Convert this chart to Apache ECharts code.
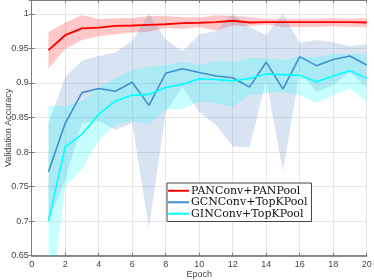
<!DOCTYPE html>
<html><head><meta charset="utf-8">
<script src="https://cdn.jsdelivr.net/npm/echarts@6/dist/echarts.min.js"></script>
<style>html,body{margin:0;padding:0;background:#fff}#c{width:374px;height:280px}</style>
</head><body><div id="c"></div>
<script>
const epochs = [1,2,3,4,5,6,7,8,9,10,11,12,13,14,15,16,17,18,19,20];
const xTicks = [0,2,4,6,8,10,12,14,16,18,20];
const yTicks = [0.65,0.7,0.75,0.8,0.85,0.9,0.95,1];
const names = ['PANConv+PANPool','GCNConv+TopKPool','GINConv+TopKPool'];

const panMean  = [0.9475,0.969,0.979,0.980,0.9826,0.983,0.984,0.985,0.9865,0.987,0.988,0.990,0.9875,0.988,0.988,0.988,0.988,0.988,0.988,0.9875];
const panUpper = [0.9738,0.9869,0.998,0.9926,0.9935,0.994,0.997,0.9965,0.9955,0.9946,0.998,0.997,0.9955,0.993,0.993,0.993,0.993,0.994,0.993,0.994];
const panLower = [0.921,0.949,0.962,0.9675,0.9705,0.973,0.974,0.9795,0.978,0.981,0.976,0.983,0.982,0.9845,0.981,0.981,0.981,0.982,0.981,0.981];

const gcnMean  = [0.7715,0.8415,0.886,0.892,0.888,0.901,0.8675,0.914,0.9205,0.915,0.910,0.9075,0.894,0.930,0.891,0.938,0.925,0.934,0.939,0.926];
const gcnUpper = [0.8415,0.909,0.932,0.939,0.944,0.961,1.0,0.963,0.946,0.970,0.975,1.0,0.981,0.969,1.0,0.958,0.962,0.959,0.953,0.956];
const gcnLower = [0.700,0.760,0.8415,0.845,0.832,0.842,0.690,0.858,0.894,0.858,0.839,0.808,0.807,0.904,0.772,0.916,0.887,0.897,0.915,0.893];

const ginMean  = [0.700,0.8076,0.8256,0.8545,0.874,0.8824,0.8834,0.8935,0.898,0.906,0.905,0.903,0.9065,0.913,0.912,0.911,0.9017,0.910,0.9176,0.9066];
const ginUpper = [0.8665,0.8665,0.873,0.8935,0.9065,0.9186,0.923,0.926,0.9306,0.926,0.9316,0.930,0.936,0.936,0.933,0.938,0.937,0.9417,0.942,0.941];
const ginLower = [0.553,0.750,0.775,0.817,0.840,0.845,0.840,0.862,0.862,0.873,0.870,0.866,0.882,0.885,0.887,0.882,0.871,0.882,0.892,0.873];

const lineColors = ['#ff0000','#3f8fd0','#00ffff'];
const bandColors = ['rgba(255,0,0,0.22)','rgba(60,120,190,0.2)','rgba(0,255,255,0.22)'];

function pairs(arr){ return epochs.map((e,i)=>[e,arr[i]]); }

const bands = [[panUpper,panLower],[gcnUpper,gcnLower],[ginUpper,ginLower]];
const means = [panMean,gcnMean,ginMean];
const series = [];
bands.forEach((b,k)=>{
  series.push({type:'custom',name:'band'+k,silent:true,z:1,
    data:[[epochs[0],b[0][0]]],
    renderItem:function(params,api){
      const up = epochs.map((e,i)=>api.coord([e,b[0][i]]));
      const lo = epochs.map((e,i)=>api.coord([e,b[1][i]])).reverse();
      const cs = params.coordSys;
      return {type:'polygon',shape:{points:up.concat(lo)},style:{fill:bandColors[k],stroke:null},
        clipPath:{type:'rect',shape:{x:cs.x,y:cs.y,width:cs.width,height:cs.height}}};
    }});
});
means.forEach((m,k)=>{
  series.push({type:'line',name:names[k],data:pairs(m),symbol:'none',
    lineStyle:{color:lineColors[k],width:k===0?1.9:1.6},itemStyle:{color:lineColors[k]},z:5});
});

const fmt = v => { const r=Math.round(v*100)/100; return yTicks.some(t=>Math.abs(t-r)<1e-9)? String(r):''; };
const axLine = {show:true,lineStyle:{color:'#7a7a7a',width:1}};
const chart = echarts.init(document.getElementById('c'),null,{renderer:'canvas'});
chart.setOption({
  animation:false,
  grid:{left:31.7,right:7.3,top:0,bottom:24.3,containLabel:false,outerBoundsMode:'none'},
  legend:{data:names,icon:'rect',orient:'vertical',left:167,top:183,itemWidth:21,itemHeight:2,itemGap:0,
    padding:[2,4,2,1],borderColor:'#444',borderWidth:1,backgroundColor:'#fff',
    textStyle:{fontFamily:'DejaVu Serif',fontSize:11,color:'#111',padding:[0,0,0,-3],lineHeight:11.5}},
  xAxis:[{type:'value',min:0,max:20,interval:2,position:'bottom',name:'Epoch',nameLocation:'middle',nameGap:14.5,nameMoveOverlap:false,
    nameTextStyle:{fontFamily:'Liberation Sans',fontSize:9,color:'#444'},
    axisLine:{show:true,lineStyle:{color:'#6a6a6a',width:1.5}},axisTick:{inside:true,length:3,lineStyle:{color:'#7a7a7a'}},
    axisLabel:{fontFamily:'Liberation Sans',fontSize:9,color:'#444',margin:4},
    splitLine:{show:true,lineStyle:{color:'#e6e6e6',width:1}}},
   {type:'value',min:0,max:20,interval:2,position:'top',axisLine:axLine,
    axisTick:{inside:true,length:3,lineStyle:{color:'#7a7a7a'}},axisLabel:{show:false},splitLine:{show:false}}],
  yAxis:[{type:'value',min:0.65,max:1.02,interval:0.05,position:'left',name:'Validation Accuracy',nameLocation:'middle',nameGap:19,nameMoveOverlap:false,
    nameTextStyle:{fontFamily:'Liberation Sans',fontSize:9,color:'#444'},
    axisLine:axLine,axisTick:{inside:true,length:3,lineStyle:{color:'#7a7a7a'}},
    axisLabel:{fontFamily:'Liberation Sans',fontSize:9,color:'#444',margin:3,formatter:fmt,showMaxLabel:false},
    splitLine:{show:true,lineStyle:{color:'#e6e6e6',width:1}}},
   {type:'value',min:0.65,max:1.02,interval:0.05,position:'right',axisLine:axLine,
    axisTick:{inside:true,length:3,lineStyle:{color:'#7a7a7a'}},axisLabel:{show:false},splitLine:{show:false}}],
  series:series
});
</script></body></html>
